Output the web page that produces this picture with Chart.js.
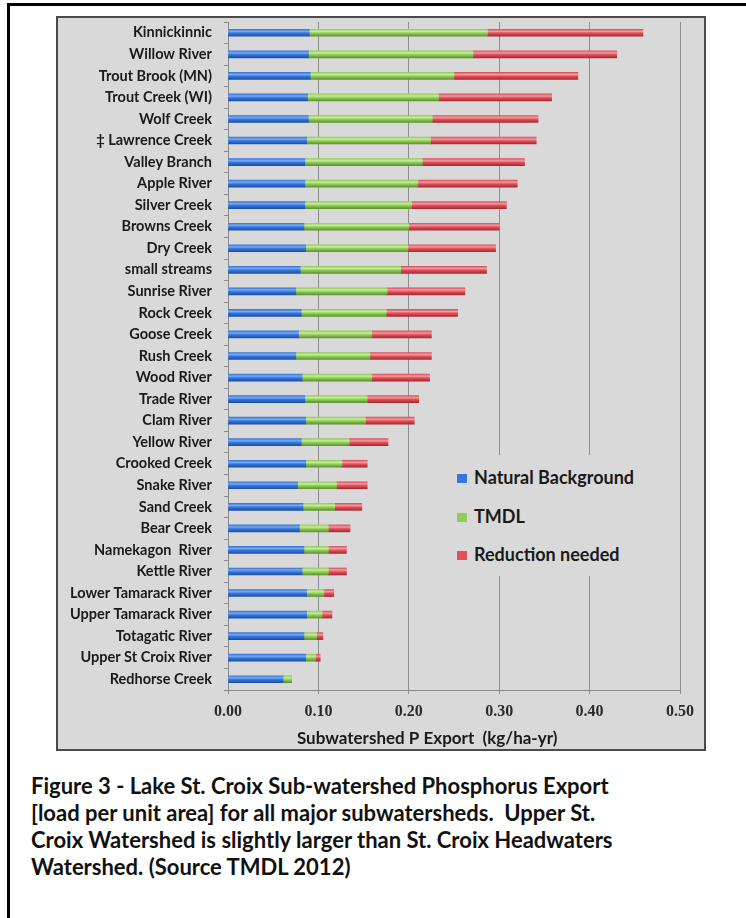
<!DOCTYPE html>
<html>
<head>
<meta charset="utf-8">
<title>Lake St. Croix Sub-watershed Phosphorus Export</title>
<script src="https://cdn.jsdelivr.net/npm/chart.js@4.4.1/dist/chart.umd.min.js"></script>
<style>
  html, body { margin: 0; padding: 0; background: #fff; overflow: hidden; }
  body { width: 746px; height: 918px; position: relative; }
  #outer { position: absolute; left: 7px; top: 3px; width: 800px; height: 1000px; border: 3px solid #000; box-sizing: border-box; }
  #frame { position: absolute; left: 56px; top: 16px; width: 650px; height: 735px; box-sizing: border-box;
    border: 2px solid #4a4a4a; background: #d9d9d9; }
  #myChart { position: absolute; left: 0; top: 0; }
  #legend { position: absolute; left: 394px; top: 437px; width: 208px; height: 121px;
    background: #d9d9d9; font: bold 18px Lato, sans-serif; color: #1a1a1a; }
  #legend div { position: absolute; left: 5px; height: 22px; line-height: 22px; white-space: nowrap; }
  #legend span { display: inline-block; width: 10px; height: 9px; margin-right: 7px; vertical-align: 1px; }
  #caption { position: absolute; left: 31px; top: 772px; font: bold 22px Lato, sans-serif; line-height: 27px; color: #111; white-space: nowrap; }
</style>
</head>
<body>
<div id="outer"></div>
<div id="frame">
  <canvas id="myChart" width="646" height="731"></canvas>
  <div id="legend"></div>
</div>
<div id="caption">Figure 3 - Lake St. Croix Sub-watershed Phosphorus Export<br>[load per unit area] for all major subwatersheds.&nbsp; Upper St.<br>Croix Watershed is slightly larger than St. Croix Headwaters<br>Watershed. (Source TMDL 2012)</div>
<script>
'use strict';

// categories, top to bottom
let subwatersheds = ['Kinnickinnic', 'Willow River', 'Trout Brook (MN)', 'Trout Creek (WI)', 'Wolf Creek',
  '\u2021 Lawrence Creek', 'Valley Branch', 'Apple River', 'Silver Creek', 'Browns Creek', 'Dry Creek',
  'small streams', 'Sunrise River', 'Rock Creek', 'Goose Creek', 'Rush Creek', 'Wood River', 'Trade River',
  'Clam River', 'Yellow River', 'Crooked Creek', 'Snake River', 'Sand Creek', 'Bear Creek', 'Namekagon  River',
  'Kettle River', 'Lower Tamarack River', 'Upper Tamarack River', 'Totagatic River', 'Upper St Croix River',
  'Redhorse Creek'];

// stacked segments (kg/ha-yr)
let naturalBackground = [0.090, 0.089, 0.091, 0.088, 0.089, 0.087, 0.085, 0.085, 0.085, 0.084, 0.086,
  0.080, 0.075, 0.081, 0.078, 0.075, 0.082, 0.085, 0.086, 0.081, 0.086, 0.077, 0.083, 0.079, 0.084,
  0.082, 0.087, 0.087, 0.084, 0.086, 0.061];
let tmdl = [0.197, 0.182, 0.159, 0.145, 0.137, 0.137, 0.130, 0.125, 0.118, 0.116, 0.113,
  0.111, 0.101, 0.094, 0.081, 0.082, 0.077, 0.069, 0.066, 0.053, 0.040, 0.043, 0.035, 0.032, 0.027,
  0.029, 0.019, 0.017, 0.014, 0.011, 0.009];
let reductionNeeded = [0.172, 0.159, 0.137, 0.125, 0.117, 0.117, 0.113, 0.110, 0.105, 0.100, 0.097,
  0.095, 0.086, 0.079, 0.066, 0.068, 0.064, 0.057, 0.054, 0.043, 0.028, 0.034, 0.030, 0.024, 0.020,
  0.020, 0.011, 0.011, 0.007, 0.005, 0];

let seriesNames = ['Natural Background', 'TMDL', 'Reduction needed'];
let seriesColors = ['#3676dc', '#92cc5a', '#e0505a'];
// light top, base, dark bottom for the tube look
let seriesShades = [
  ['#78aaf0', '#3676dc', '#1d4fa8'],
  ['#c6ee9c', '#92cc5a', '#5c962c'],
  ['#f39a9f', '#e0505a', '#a82a34']
];
let xTicks = [0, 0.1, 0.2, 0.3, 0.4, 0.5];
// trailing spaces push the centred title a little to the left, like the original
let axisTitle = 'Subwatershed P Export  (kg/ha-yr)' + '\u00a0'.repeat(13);
let barSize = 7;

// vertical gradient for each bar, from the category scale
function tubeColor(i) {
  return function (context) {
    let chart = context.chart;
    let yScale = chart.scales && chart.scales.y;
    if (!chart.chartArea || !yScale || context.dataIndex === undefined) {
      return seriesColors[i];
    }
    let mid = yScale.getPixelForValue(context.dataIndex);
    let g = chart.ctx.createLinearGradient(0, mid - barSize / 2, 0, mid + barSize / 2);
    g.addColorStop(0, seriesShades[i][1]);
    g.addColorStop(0.3, seriesShades[i][0]);
    g.addColorStop(0.55, seriesShades[i][1]);
    g.addColorStop(1, seriesShades[i][2]);
    return g;
  };
}

let seriesValues = [naturalBackground, tmdl, reductionNeeded];
let datasets = [];
for (let i = 0; i < seriesNames.length; i++) {
  datasets.push({
    label: seriesNames[i],
    data: seriesValues[i],
    backgroundColor: tubeColor(i),
    borderWidth: 0,
    barThickness: barSize
  });
}

let ctx = document.getElementById('myChart').getContext('2d');
let myChart = new Chart(ctx, {
  type: 'bar',
  data: { labels: subwatersheds, datasets: datasets },
  options: {
    indexAxis: 'y',
    responsive: false,
    animation: false,
    layout: { padding: { left: 0, right: 24, top: 4, bottom: 0 } },
    plugins: { legend: { display: false }, tooltip: { enabled: false } },
    scales: {
      x: {
        stacked: true,
        min: 0,
        max: 0.5,
        afterBuildTicks: function (scale) {
          scale.ticks = xTicks.map(function (v) { return { value: v }; });
        },
        afterFit: function (scale) { scale.height = 59; },
        grid: { color: '#8e8e8e', tickLength: 4, lineWidth: 1 },
        border: { color: '#8a8a8a' },
        ticks: {
          padding: 8,
          color: '#2a2a2a',
          font: { family: '"Liberation Serif"', weight: 'bold', size: 16 },
          callback: function (v) { return Number(v).toFixed(2); }
        },
        title: {
          display: true,
          text: axisTitle,
          color: '#1a1a1a',
          font: { family: 'Lato', weight: 'bold', size: 17 },
          padding: { top: 0, bottom: 0 }
        }
      },
      y: {
        stacked: true,
        afterFit: function (scale) {
          scale.width = 170;
          scale.paddingTop = 0;
          scale.paddingBottom = 0;
        },
        grid: { drawOnChartArea: false, tickLength: 4, color: '#8a8a8a' },
        border: { color: '#8a8a8a' },
        ticks: {
          padding: 12,
          autoSkip: false,
          color: '#1a1a1a',
          font: { family: 'Lato', weight: 'bold', size: 14.5 }
        }
      }
    }
  }
});

// legend inside the plot
let myLegend = document.getElementById('legend');
let legendRows = [22, 61, 99];
for (let i = 0; i < seriesNames.length; i++) {
  let row = document.createElement('div');
  row.style.top = (legendRows[i] - 11) + 'px';
  row.innerHTML = '<span style="background:' + seriesColors[i] + '"></span>' + seriesNames[i];
  myLegend.appendChild(row);
}
</script>
</body>
</html>
